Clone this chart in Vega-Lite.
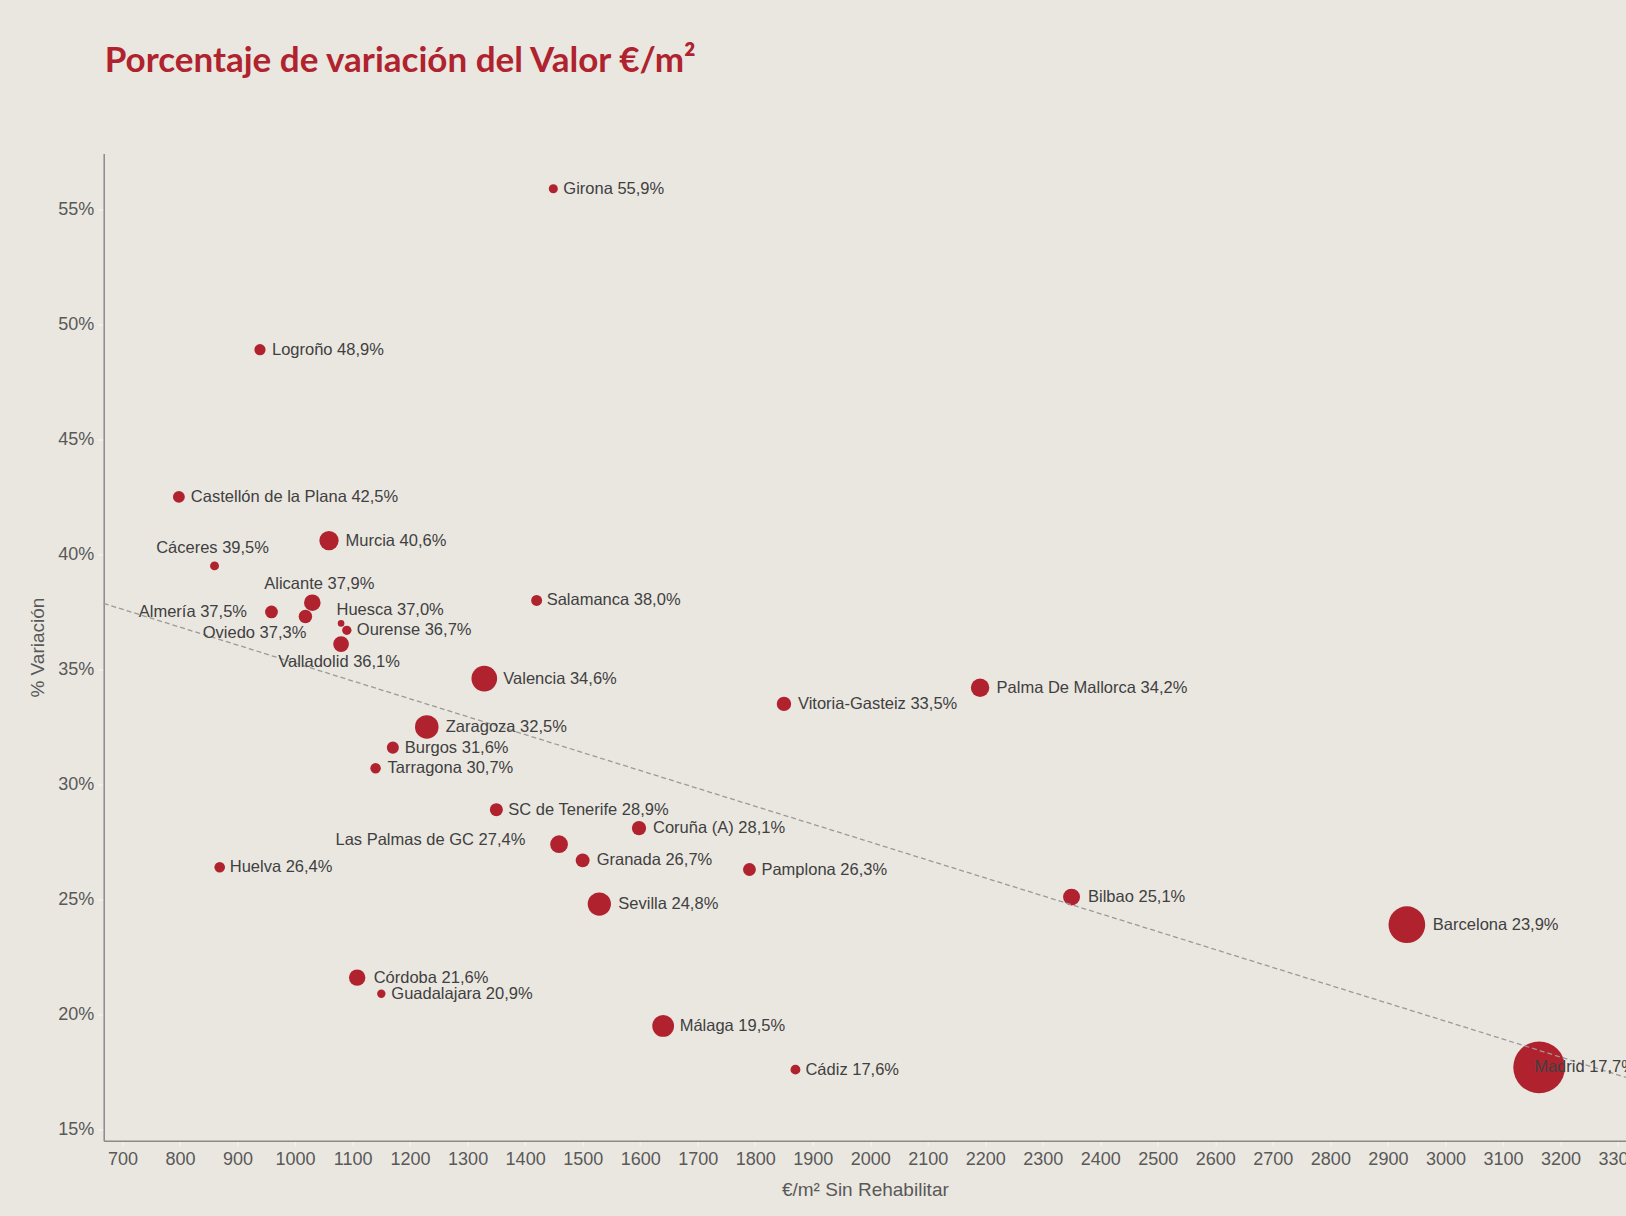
{
  "$schema": "https://vega.github.io/schema/vega-lite/v6.json",
  "width": 1522.3,
  "height": 987.2,
  "autosize": {"type": "none"},
  "padding": {"left": 103.7, "top": 153.5, "right": 0, "bottom": 75.3},
  "background": "#eae7e0",
  "title": {
    "text": "Porcentaje de variación del Valor €/m²",
    "anchor": "start",
    "frame": "group",
    "font": "Lato",
    "fontSize": 35,
    "fontWeight": "bold",
    "color": "#b0232e",
    "offset": 75,
    "dx": 1
  },
  "config": {
    "view": {"stroke": null},
    "axis": {
      "grid": false,
      "domainColor": "#8a8a8a",
      "domainWidth": 1.5,
      "tickColor": "#f7f7f5",
      "labelFont": "Liberation Sans",
      "labelFontSize": 18,
      "labelColor": "#595959",
      "titleFont": "Liberation Sans",
      "titleFontSize": 19,
      "titleFontWeight": "normal",
      "titleColor": "#595959",
      "labelOverlap": false,
      "labelFlush": false
    }
  },
  "data": {
    "values": [
      {"ciudad": "Girona", "eur_m2": 1449, "variacion": 0.559, "poblacion": 99, "etiqueta": "Girona 55,9%"},
      {"ciudad": "Logroño", "eur_m2": 939, "variacion": 0.489, "poblacion": 151, "etiqueta": "Logroño 48,9%"},
      {"ciudad": "Castellón de la Plana", "eur_m2": 798, "variacion": 0.425, "poblacion": 170, "etiqueta": "Castellón de la Plana 42,5%"},
      {"ciudad": "Cáceres", "eur_m2": 860, "variacion": 0.395, "poblacion": 96, "etiqueta": "Cáceres 39,5%"},
      {"ciudad": "Murcia", "eur_m2": 1059, "variacion": 0.406, "poblacion": 448, "etiqueta": "Murcia 40,6%"},
      {"ciudad": "Alicante", "eur_m2": 1030, "variacion": 0.379, "poblacion": 331, "etiqueta": "Alicante 37,9%"},
      {"ciudad": "Almería", "eur_m2": 959, "variacion": 0.375, "poblacion": 197, "etiqueta": "Almería 37,5%"},
      {"ciudad": "Oviedo", "eur_m2": 1018, "variacion": 0.373, "poblacion": 220, "etiqueta": "Oviedo 37,3%"},
      {"ciudad": "Huesca", "eur_m2": 1080, "variacion": 0.370, "poblacion": 52, "etiqueta": "Huesca 37,0%"},
      {"ciudad": "Ourense", "eur_m2": 1090, "variacion": 0.367, "poblacion": 105, "etiqueta": "Ourense 36,7%"},
      {"ciudad": "Valladolid", "eur_m2": 1080, "variacion": 0.361, "poblacion": 298, "etiqueta": "Valladolid 36,1%"},
      {"ciudad": "Salamanca", "eur_m2": 1420, "variacion": 0.380, "poblacion": 144, "etiqueta": "Salamanca 38,0%"},
      {"ciudad": "Valencia", "eur_m2": 1329, "variacion": 0.346, "poblacion": 792, "etiqueta": "Valencia 34,6%"},
      {"ciudad": "Zaragoza", "eur_m2": 1229, "variacion": 0.325, "poblacion": 667, "etiqueta": "Zaragoza 32,5%"},
      {"ciudad": "Burgos", "eur_m2": 1170, "variacion": 0.316, "poblacion": 175, "etiqueta": "Burgos 31,6%"},
      {"ciudad": "Tarragona", "eur_m2": 1140, "variacion": 0.307, "poblacion": 132, "etiqueta": "Tarragona 30,7%"},
      {"ciudad": "SC de Tenerife", "eur_m2": 1350, "variacion": 0.289, "poblacion": 204, "etiqueta": "SC de Tenerife 28,9%"},
      {"ciudad": "Coruña (A)", "eur_m2": 1598, "variacion": 0.281, "poblacion": 245, "etiqueta": "Coruña (A) 28,1%"},
      {"ciudad": "Las Palmas de GC", "eur_m2": 1459, "variacion": 0.274, "poblacion": 379, "etiqueta": "Las Palmas de GC 27,4%"},
      {"ciudad": "Granada", "eur_m2": 1500, "variacion": 0.267, "poblacion": 232, "etiqueta": "Granada 26,7%"},
      {"ciudad": "Huelva", "eur_m2": 869, "variacion": 0.264, "poblacion": 135, "etiqueta": "Huelva 26,4%"},
      {"ciudad": "Pamplona", "eur_m2": 1790, "variacion": 0.263, "poblacion": 199, "etiqueta": "Pamplona 26,3%"},
      {"ciudad": "Sevilla", "eur_m2": 1529, "variacion": 0.248, "poblacion": 650, "etiqueta": "Sevilla 24,8%"},
      {"ciudad": "Vitoria-Gasteiz", "eur_m2": 1850, "variacion": 0.335, "poblacion": 249, "etiqueta": "Vitoria-Gasteiz 33,5%"},
      {"ciudad": "Palma De Mallorca", "eur_m2": 2191, "variacion": 0.342, "poblacion": 409, "etiqueta": "Palma De Mallorca 34,2%"},
      {"ciudad": "Bilbao", "eur_m2": 2350, "variacion": 0.251, "poblacion": 346, "etiqueta": "Bilbao 25,1%"},
      {"ciudad": "Barcelona", "eur_m2": 2933, "variacion": 0.239, "poblacion": 1620, "etiqueta": "Barcelona 23,9%"},
      {"ciudad": "Madrid", "eur_m2": 3163, "variacion": 0.177, "poblacion": 3223, "etiqueta": "Madrid 17,7%"},
      {"ciudad": "Córdoba", "eur_m2": 1108, "variacion": 0.216, "poblacion": 326, "etiqueta": "Córdoba 21,6%"},
      {"ciudad": "Guadalajara", "eur_m2": 1150, "variacion": 0.209, "poblacion": 84, "etiqueta": "Guadalajara 20,9%"},
      {"ciudad": "Málaga", "eur_m2": 1640, "variacion": 0.195, "poblacion": 571, "etiqueta": "Málaga 19,5%"},
      {"ciudad": "Cádiz", "eur_m2": 1870, "variacion": 0.176, "poblacion": 117, "etiqueta": "Cádiz 17,6%"}
    ]
  },
  "encoding": {
    "x": {
      "field": "eur_m2",
      "type": "quantitative",
      "scale": {"domain": [667.3, 3314], "nice": false, "zero": false},
      "axis": {
        "title": "€/m² Sin Rehabilitar",
        "values": [700, 800, 900, 1000, 1100, 1200, 1300, 1400, 1500, 1600, 1700, 1800, 1900, 2000, 2100, 2200, 2300, 2400, 2500, 2600, 2700, 2800, 2900, 3000, 3100, 3200, 3300],
        "format": "d",
        "tickSize": 5,
        "labelPadding": 5,
        "titlePadding": 12
      }
    },
    "y": {
      "field": "variacion",
      "type": "quantitative",
      "scale": {"domain": [0.1451, 0.5743], "nice": false, "zero": false},
      "axis": {
        "title": "% Variación",
        "values": [0.15, 0.2, 0.25, 0.3, 0.35, 0.4, 0.45, 0.5, 0.55],
        "format": ".0%",
        "tickSize": 6,
        "labelPadding": 4,
        "titlePadding": 10
      }
    }
  },
  "layer": [
    {
      "mark": {"type": "circle", "color": "#b0232e", "opacity": 1},
      "encoding": {
        "size": {"field": "poblacion", "type": "quantitative", "scale": {"domain": [0, 3223], "range": [0, 2679]}, "legend": null}
      }
    },
    {
      "transform": [{"regression": "variacion", "on": "eur_m2", "extent": [667.3, 3314]}],
      "mark": {"type": "line", "color": "#9a9a9a", "strokeDash": [5, 3], "strokeWidth": 1.3},
      "encoding": {}
    },
    {
      "transform": [{"filter": {"field": "ciudad", "oneOf": ["Girona", "Ourense", "Guadalajara", "Cádiz", "Huelva", "Salamanca"]}}],
      "mark": {"type": "text", "align": "left", "baseline": "middle", "dx": 10, "font": "Liberation Sans", "fontSize": 16.5, "color": "#404040"},
      "encoding": {"text": {"field": "etiqueta"}}
    },
    {
      "transform": [{"filter": {"field": "ciudad", "oneOf": ["Logroño", "Castellón de la Plana", "Tarragona", "Burgos", "SC de Tenerife", "Pamplona"]}}],
      "mark": {"type": "text", "align": "left", "baseline": "middle", "dx": 12, "font": "Liberation Sans", "fontSize": 16.5, "color": "#404040"},
      "encoding": {"text": {"field": "etiqueta"}}
    },
    {
      "transform": [{"filter": {"field": "ciudad", "oneOf": ["Coruña (A)", "Vitoria-Gasteiz", "Granada"]}}],
      "mark": {"type": "text", "align": "left", "baseline": "middle", "dx": 14, "font": "Liberation Sans", "fontSize": 16.5, "color": "#404040"},
      "encoding": {"text": {"field": "etiqueta"}}
    },
    {
      "transform": [{"filter": {"field": "ciudad", "oneOf": ["Murcia", "Córdoba", "Palma De Mallorca", "Bilbao", "Málaga"]}}],
      "mark": {"type": "text", "align": "left", "baseline": "middle", "dx": 16.5, "font": "Liberation Sans", "fontSize": 16.5, "color": "#404040"},
      "encoding": {"text": {"field": "etiqueta"}}
    },
    {
      "transform": [{"filter": {"field": "ciudad", "oneOf": ["Zaragoza", "Sevilla", "Valencia"]}}],
      "mark": {"type": "text", "align": "left", "baseline": "middle", "dx": 19, "font": "Liberation Sans", "fontSize": 16.5, "color": "#404040"},
      "encoding": {"text": {"field": "etiqueta"}}
    },
    {
      "transform": [{"filter": {"field": "ciudad", "oneOf": ["Barcelona"]}}],
      "mark": {"type": "text", "align": "left", "baseline": "middle", "dx": 26, "font": "Liberation Sans", "fontSize": 16.5, "color": "#404040"},
      "encoding": {"text": {"field": "etiqueta"}}
    },
    {
      "transform": [{"filter": {"field": "ciudad", "oneOf": ["Madrid"]}}],
      "mark": {"type": "text", "align": "left", "baseline": "middle", "dx": -5, "font": "Liberation Sans", "fontSize": 16.5, "color": "#404040"},
      "encoding": {"text": {"field": "etiqueta"}}
    },
    {
      "transform": [{"filter": {"field": "ciudad", "oneOf": ["Cáceres"]}}],
      "mark": {"type": "text", "align": "center", "baseline": "middle", "dx": -2, "dy": -17.7, "font": "Liberation Sans", "fontSize": 16.5, "color": "#404040"},
      "encoding": {"text": {"field": "etiqueta"}}
    },
    {
      "transform": [{"filter": {"field": "ciudad", "oneOf": ["Alicante"]}}],
      "mark": {"type": "text", "align": "center", "baseline": "middle", "dx": 7, "dy": -18.4, "font": "Liberation Sans", "fontSize": 16.5, "color": "#404040"},
      "encoding": {"text": {"field": "etiqueta"}}
    },
    {
      "transform": [{"filter": {"field": "ciudad", "oneOf": ["Valladolid"]}}],
      "mark": {"type": "text", "align": "center", "baseline": "middle", "dx": -2, "dy": 17.7, "font": "Liberation Sans", "fontSize": 16.5, "color": "#404040"},
      "encoding": {"text": {"field": "etiqueta"}}
    },
    {
      "transform": [{"filter": {"field": "ciudad", "oneOf": ["Almería"]}}],
      "mark": {"type": "text", "align": "right", "baseline": "middle", "dx": -24.5, "font": "Liberation Sans", "fontSize": 16.5, "color": "#404040"},
      "encoding": {"text": {"field": "etiqueta"}}
    },
    {
      "transform": [{"filter": {"field": "ciudad", "oneOf": ["Oviedo"]}}],
      "mark": {"type": "text", "align": "right", "baseline": "middle", "dx": 1, "dy": 16.7, "font": "Liberation Sans", "fontSize": 16.5, "color": "#404040"},
      "encoding": {"text": {"field": "etiqueta"}}
    },
    {
      "transform": [{"filter": {"field": "ciudad", "oneOf": ["Huesca"]}}],
      "mark": {"type": "text", "align": "left", "baseline": "middle", "dx": -4.6, "dy": -13.3, "font": "Liberation Sans", "fontSize": 16.5, "color": "#404040"},
      "encoding": {"text": {"field": "etiqueta"}}
    },
    {
      "transform": [{"filter": {"field": "ciudad", "oneOf": ["Las Palmas de GC"]}}],
      "mark": {"type": "text", "align": "right", "baseline": "middle", "dx": -33.7, "dy": -4.3, "font": "Liberation Sans", "fontSize": 16.5, "color": "#404040"},
      "encoding": {"text": {"field": "etiqueta"}}
    }
  ]
}
